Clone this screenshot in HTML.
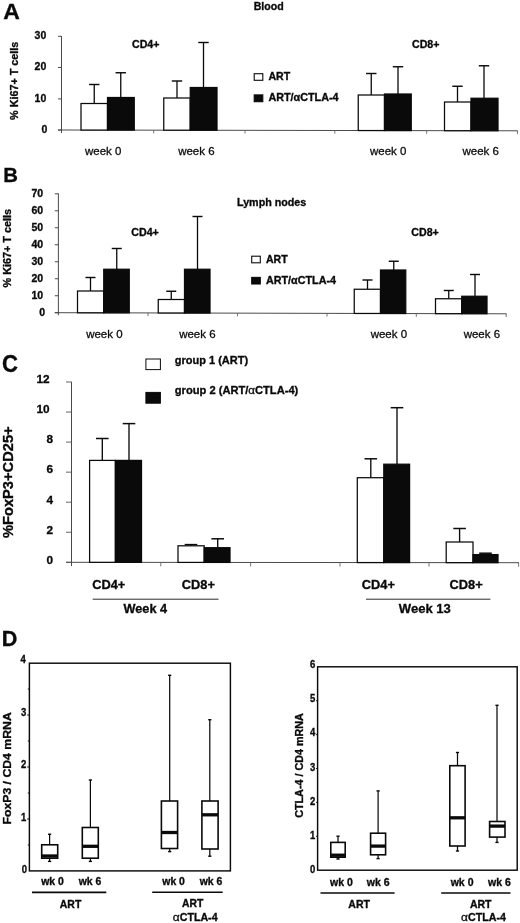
<!DOCTYPE html>
<html><head><meta charset="utf-8"><title>Figure</title>
<style>
html,body{margin:0;padding:0;background:#fff;}
body{width:520px;height:923px;overflow:hidden;}
svg{display:block;font-family:"Liberation Sans",sans-serif;filter:blur(0.35px);}
</style></head><body>
<svg width="520" height="923" viewBox="0 0 520 923">
<rect x="0" y="0" width="520" height="923" fill="#ffffff"/>
<text x="3.2" y="19.4" font-size="21.5" font-weight="bold" textLength="16.6" lengthAdjust="spacingAndGlyphs" fill="#0a0a0a" stroke="#0a0a0a" stroke-width="0.32">A</text>
<text x="253.7" y="10" font-size="10.2" font-weight="bold" textLength="30" lengthAdjust="spacingAndGlyphs" fill="#0a0a0a" stroke="#0a0a0a" stroke-width="0.32">Blood</text>
<line x1="61.5" y1="36" x2="61.5" y2="133.0" stroke="#4a4a4a" stroke-width="1"/>
<line x1="58" y1="129.99" x2="517.8" y2="130.8" stroke="#4a4a4a" stroke-width="1"/>
<line x1="58" y1="36.3" x2="61.5" y2="36.3" stroke="#4a4a4a" stroke-width="1"/>
<text x="46.3" y="39.2" font-size="10.5" font-weight="bold" text-anchor="end" fill="#0a0a0a" stroke="#0a0a0a" stroke-width="0.32">30</text>
<line x1="58" y1="67.5" x2="61.5" y2="67.5" stroke="#4a4a4a" stroke-width="1"/>
<text x="46.3" y="70.4" font-size="10.5" font-weight="bold" text-anchor="end" fill="#0a0a0a" stroke="#0a0a0a" stroke-width="0.32">20</text>
<line x1="58" y1="98.9" x2="61.5" y2="98.9" stroke="#4a4a4a" stroke-width="1"/>
<text x="46.3" y="101.8" font-size="10.5" font-weight="bold" text-anchor="end" fill="#0a0a0a" stroke="#0a0a0a" stroke-width="0.32">10</text>
<line x1="58" y1="130.0" x2="61.5" y2="130.0" stroke="#4a4a4a" stroke-width="1"/>
<text x="47.4" y="132.9" font-size="10.5" font-weight="bold" text-anchor="end" fill="#0a0a0a" stroke="#0a0a0a" stroke-width="0.32">0</text>
<line x1="153.7" y1="130.16" x2="153.7" y2="133.36" stroke="#666" stroke-width="0.9"/>
<line x1="245" y1="130.32" x2="245" y2="133.52" stroke="#666" stroke-width="0.9"/>
<line x1="334.8" y1="130.48" x2="334.8" y2="133.68" stroke="#666" stroke-width="0.9"/>
<line x1="426.7" y1="130.64" x2="426.7" y2="133.84" stroke="#666" stroke-width="0.9"/>
<line x1="517.5" y1="130.8" x2="517.5" y2="134.0" stroke="#666" stroke-width="0.9"/>
<text x="18" y="80.8" font-size="10.6" font-weight="bold" text-anchor="middle" textLength="78.3" lengthAdjust="spacingAndGlyphs" transform="rotate(-90 18 80.8)" fill="#0a0a0a" stroke="#0a0a0a" stroke-width="0.32">% Ki67+ T cells</text>
<line x1="94.25" y1="84.5" x2="94.25" y2="103.5" stroke="#0a0a0a" stroke-width="1.3"/>
<line x1="89.05" y1="84.5" x2="99.45" y2="84.5" stroke="#0a0a0a" stroke-width="1.43"/>
<rect x="81" y="103.5" width="26.5" height="26.56" fill="#fff" stroke="#0a0a0a" stroke-width="1.25"/>
<line x1="120.75" y1="72.75" x2="120.75" y2="97.5" stroke="#0a0a0a" stroke-width="1.3"/>
<line x1="115.55" y1="72.75" x2="125.95" y2="72.75" stroke="#0a0a0a" stroke-width="1.43"/>
<rect x="107.5" y="97.5" width="26.75" height="32.6" fill="#0a0a0a" stroke="#0a0a0a" stroke-width="1.25"/>
<line x1="177" y1="81" x2="177" y2="98" stroke="#0a0a0a" stroke-width="1.3"/>
<line x1="171.8" y1="81" x2="182.2" y2="81" stroke="#0a0a0a" stroke-width="1.43"/>
<rect x="163.75" y="98" width="26.5" height="32.2" fill="#fff" stroke="#0a0a0a" stroke-width="1.25"/>
<line x1="203.5" y1="42.5" x2="203.5" y2="87.5" stroke="#0a0a0a" stroke-width="1.3"/>
<line x1="198.3" y1="42.5" x2="208.7" y2="42.5" stroke="#0a0a0a" stroke-width="1.43"/>
<rect x="190.25" y="87.5" width="26.75" height="42.75" fill="#0a0a0a" stroke="#0a0a0a" stroke-width="1.25"/>
<line x1="371.25" y1="73.5" x2="371.25" y2="95" stroke="#0a0a0a" stroke-width="1.3"/>
<line x1="366.05" y1="73.5" x2="376.45" y2="73.5" stroke="#0a0a0a" stroke-width="1.43"/>
<rect x="358.25" y="95" width="26.25" height="35.54" fill="#fff" stroke="#0a0a0a" stroke-width="1.25"/>
<line x1="398" y1="66.75" x2="398" y2="94" stroke="#0a0a0a" stroke-width="1.3"/>
<line x1="392.8" y1="66.75" x2="403.2" y2="66.75" stroke="#0a0a0a" stroke-width="1.43"/>
<rect x="384.5" y="94" width="26.75" height="36.59" fill="#0a0a0a" stroke="#0a0a0a" stroke-width="1.25"/>
<line x1="457.5" y1="86.25" x2="457.5" y2="102" stroke="#0a0a0a" stroke-width="1.3"/>
<line x1="452.3" y1="86.25" x2="462.7" y2="86.25" stroke="#0a0a0a" stroke-width="1.43"/>
<rect x="444.5" y="102" width="26.5" height="28.7" fill="#fff" stroke="#0a0a0a" stroke-width="1.25"/>
<line x1="484" y1="65.75" x2="484" y2="98.25" stroke="#0a0a0a" stroke-width="1.3"/>
<line x1="478.8" y1="65.75" x2="489.2" y2="65.75" stroke="#0a0a0a" stroke-width="1.43"/>
<rect x="471" y="98.25" width="27" height="32.49" fill="#0a0a0a" stroke="#0a0a0a" stroke-width="1.25"/>
<text x="132" y="47.5" font-size="10.2" font-weight="bold" textLength="27.5" lengthAdjust="spacingAndGlyphs" fill="#0a0a0a" stroke="#0a0a0a" stroke-width="0.32">CD4+</text>
<text x="412" y="47.9" font-size="10.2" font-weight="bold" textLength="27.5" lengthAdjust="spacingAndGlyphs" fill="#0a0a0a" stroke="#0a0a0a" stroke-width="0.32">CD8+</text>
<rect x="254.2" y="73.7" width="8.6" height="6.6" fill="#fff" stroke="#0a0a0a" stroke-width="1.1"/>
<text x="268.4" y="79.5" font-size="10" font-weight="bold" textLength="21.7" lengthAdjust="spacingAndGlyphs" fill="#0a0a0a" stroke="#0a0a0a" stroke-width="0.32">ART</text>
<rect x="254.2" y="94.9" width="8.6" height="6.8" fill="#0a0a0a" stroke="#0a0a0a" stroke-width="1.1"/>
<text x="268.5" y="101.2" font-size="10" font-weight="bold" textLength="70" lengthAdjust="spacingAndGlyphs" fill="#0a0a0a" stroke="#0a0a0a" stroke-width="0.32">ART/αCTLA-4</text>
<text x="85" y="155.2" font-size="11.4" textLength="36.4" lengthAdjust="spacingAndGlyphs" fill="#0a0a0a" stroke="#0a0a0a" stroke-width="0.28">week 0</text>
<text x="178.2" y="155.2" font-size="11.4" textLength="36.4" lengthAdjust="spacingAndGlyphs" fill="#0a0a0a" stroke="#0a0a0a" stroke-width="0.28">week 6</text>
<text x="370" y="155.2" font-size="11.4" textLength="36.4" lengthAdjust="spacingAndGlyphs" fill="#0a0a0a" stroke="#0a0a0a" stroke-width="0.28">week 0</text>
<text x="462.5" y="155.2" font-size="11.4" textLength="36.4" lengthAdjust="spacingAndGlyphs" fill="#0a0a0a" stroke="#0a0a0a" stroke-width="0.28">week 6</text>
<text x="3.3" y="182" font-size="21" font-weight="bold" textLength="14.7" lengthAdjust="spacingAndGlyphs" fill="#0a0a0a" stroke="#0a0a0a" stroke-width="0.32">B</text>
<text x="237" y="206.3" font-size="10.2" font-weight="bold" textLength="69.3" lengthAdjust="spacingAndGlyphs" fill="#0a0a0a" stroke="#0a0a0a" stroke-width="0.32">Lymph nodes</text>
<line x1="58.4" y1="193.5" x2="58.4" y2="315.2" stroke="#4a4a4a" stroke-width="1"/>
<line x1="54.8" y1="312.69" x2="506.5" y2="313.8" stroke="#4a4a4a" stroke-width="1"/>
<line x1="54.8" y1="193.8" x2="58.4" y2="193.8" stroke="#4a4a4a" stroke-width="1"/>
<text x="43.2" y="196.8" font-size="10.5" font-weight="bold" text-anchor="end" fill="#0a0a0a" stroke="#0a0a0a" stroke-width="0.32">70</text>
<line x1="54.8" y1="210.79" x2="58.4" y2="210.79" stroke="#4a4a4a" stroke-width="1"/>
<text x="43.2" y="213.79" font-size="10.5" font-weight="bold" text-anchor="end" fill="#0a0a0a" stroke="#0a0a0a" stroke-width="0.32">60</text>
<line x1="54.8" y1="227.78" x2="58.4" y2="227.78" stroke="#4a4a4a" stroke-width="1"/>
<text x="43.2" y="230.78" font-size="10.5" font-weight="bold" text-anchor="end" fill="#0a0a0a" stroke="#0a0a0a" stroke-width="0.32">50</text>
<line x1="54.8" y1="244.77" x2="58.4" y2="244.77" stroke="#4a4a4a" stroke-width="1"/>
<text x="43.2" y="247.77" font-size="10.5" font-weight="bold" text-anchor="end" fill="#0a0a0a" stroke="#0a0a0a" stroke-width="0.32">40</text>
<line x1="54.8" y1="261.76" x2="58.4" y2="261.76" stroke="#4a4a4a" stroke-width="1"/>
<text x="43.2" y="264.76" font-size="10.5" font-weight="bold" text-anchor="end" fill="#0a0a0a" stroke="#0a0a0a" stroke-width="0.32">30</text>
<line x1="54.8" y1="278.75" x2="58.4" y2="278.75" stroke="#4a4a4a" stroke-width="1"/>
<text x="43.2" y="281.75" font-size="10.5" font-weight="bold" text-anchor="end" fill="#0a0a0a" stroke="#0a0a0a" stroke-width="0.32">20</text>
<line x1="54.8" y1="295.74" x2="58.4" y2="295.74" stroke="#4a4a4a" stroke-width="1"/>
<text x="43.2" y="298.74" font-size="10.5" font-weight="bold" text-anchor="end" fill="#0a0a0a" stroke="#0a0a0a" stroke-width="0.32">10</text>
<line x1="54.8" y1="312.73" x2="58.4" y2="312.73" stroke="#4a4a4a" stroke-width="1"/>
<text x="45.0" y="315.73" font-size="10.5" font-weight="bold" text-anchor="end" fill="#0a0a0a" stroke="#0a0a0a" stroke-width="0.32">0</text>
<line x1="148" y1="312.92" x2="148" y2="316.12" stroke="#666" stroke-width="0.9"/>
<line x1="237.5" y1="313.14" x2="237.5" y2="316.34" stroke="#666" stroke-width="0.9"/>
<line x1="327" y1="313.36" x2="327" y2="316.56" stroke="#666" stroke-width="0.9"/>
<line x1="416.3" y1="313.58" x2="416.3" y2="316.78" stroke="#666" stroke-width="0.9"/>
<line x1="506.2" y1="313.8" x2="506.2" y2="317" stroke="#666" stroke-width="0.9"/>
<text x="10.6" y="248.2" font-size="10.6" font-weight="bold" text-anchor="middle" textLength="78.5" lengthAdjust="spacingAndGlyphs" transform="rotate(-90 10.6 248.2)" fill="#0a0a0a" stroke="#0a0a0a" stroke-width="0.32">% Ki67+ T cells</text>
<line x1="90.5" y1="277.5" x2="90.5" y2="291" stroke="#0a0a0a" stroke-width="1.3"/>
<line x1="85.5" y1="277.5" x2="95.5" y2="277.5" stroke="#0a0a0a" stroke-width="1.43"/>
<rect x="77.5" y="291" width="26.25" height="21.78" fill="#fff" stroke="#0a0a0a" stroke-width="1.25"/>
<line x1="116.75" y1="248.5" x2="116.75" y2="269.25" stroke="#0a0a0a" stroke-width="1.3"/>
<line x1="111.75" y1="248.5" x2="121.75" y2="248.5" stroke="#0a0a0a" stroke-width="1.43"/>
<rect x="103.75" y="269.25" width="25.5" height="43.59" fill="#0a0a0a" stroke="#0a0a0a" stroke-width="1.25"/>
<line x1="171.25" y1="291.25" x2="171.25" y2="299.5" stroke="#0a0a0a" stroke-width="1.3"/>
<line x1="166.25" y1="291.25" x2="176.25" y2="291.25" stroke="#0a0a0a" stroke-width="1.43"/>
<rect x="158.25" y="299.5" width="26.25" height="13.48" fill="#fff" stroke="#0a0a0a" stroke-width="1.25"/>
<line x1="197.5" y1="216.5" x2="197.5" y2="269.25" stroke="#0a0a0a" stroke-width="1.3"/>
<line x1="192.5" y1="216.5" x2="202.5" y2="216.5" stroke="#0a0a0a" stroke-width="1.43"/>
<rect x="184.5" y="269.25" width="25.5" height="43.79" fill="#0a0a0a" stroke="#0a0a0a" stroke-width="1.25"/>
<line x1="367.5" y1="280" x2="367.5" y2="289.25" stroke="#0a0a0a" stroke-width="1.3"/>
<line x1="362.5" y1="280" x2="372.5" y2="280" stroke="#0a0a0a" stroke-width="1.43"/>
<rect x="354.25" y="289.25" width="26.25" height="24.21" fill="#fff" stroke="#0a0a0a" stroke-width="1.25"/>
<line x1="393.75" y1="261.25" x2="393.75" y2="270" stroke="#0a0a0a" stroke-width="1.3"/>
<line x1="388.75" y1="261.25" x2="398.75" y2="261.25" stroke="#0a0a0a" stroke-width="1.43"/>
<rect x="380.5" y="270" width="25.25" height="43.52" fill="#0a0a0a" stroke="#0a0a0a" stroke-width="1.25"/>
<line x1="448.75" y1="290.5" x2="448.75" y2="298.75" stroke="#0a0a0a" stroke-width="1.3"/>
<line x1="443.75" y1="290.5" x2="453.75" y2="290.5" stroke="#0a0a0a" stroke-width="1.43"/>
<rect x="435.5" y="298.75" width="26.25" height="14.91" fill="#fff" stroke="#0a0a0a" stroke-width="1.25"/>
<line x1="475" y1="274.5" x2="475" y2="296.25" stroke="#0a0a0a" stroke-width="1.3"/>
<line x1="470" y1="274.5" x2="480" y2="274.5" stroke="#0a0a0a" stroke-width="1.43"/>
<rect x="461.75" y="296.25" width="25.25" height="17.47" fill="#0a0a0a" stroke="#0a0a0a" stroke-width="1.25"/>
<text x="131.3" y="235.7" font-size="10.2" font-weight="bold" textLength="27.5" lengthAdjust="spacingAndGlyphs" fill="#0a0a0a" stroke="#0a0a0a" stroke-width="0.32">CD4+</text>
<text x="411.3" y="236.2" font-size="10.2" font-weight="bold" textLength="27.5" lengthAdjust="spacingAndGlyphs" fill="#0a0a0a" stroke="#0a0a0a" stroke-width="0.32">CD8+</text>
<rect x="251.7" y="256.2" width="8.6" height="6.6" fill="#fff" stroke="#0a0a0a" stroke-width="1.1"/>
<text x="266" y="262.5" font-size="10" font-weight="bold" textLength="21.7" lengthAdjust="spacingAndGlyphs" fill="#0a0a0a" stroke="#0a0a0a" stroke-width="0.32">ART</text>
<rect x="251.7" y="277.4" width="8.6" height="6.6" fill="#0a0a0a" stroke="#0a0a0a" stroke-width="1.1"/>
<text x="266" y="284.2" font-size="10" font-weight="bold" textLength="70" lengthAdjust="spacingAndGlyphs" fill="#0a0a0a" stroke="#0a0a0a" stroke-width="0.32">ART/αCTLA-4</text>
<text x="86.2" y="337.8" font-size="11.4" textLength="36.4" lengthAdjust="spacingAndGlyphs" fill="#0a0a0a" stroke="#0a0a0a" stroke-width="0.28">week 0</text>
<text x="179.2" y="337.8" font-size="11.4" textLength="36.4" lengthAdjust="spacingAndGlyphs" fill="#0a0a0a" stroke="#0a0a0a" stroke-width="0.28">week 6</text>
<text x="370.7" y="338.2" font-size="11.4" textLength="36.4" lengthAdjust="spacingAndGlyphs" fill="#0a0a0a" stroke="#0a0a0a" stroke-width="0.28">week 0</text>
<text x="463.7" y="338.2" font-size="11.4" textLength="36.4" lengthAdjust="spacingAndGlyphs" fill="#0a0a0a" stroke="#0a0a0a" stroke-width="0.28">week 6</text>
<text x="1.9" y="372.2" font-size="24" font-weight="bold" textLength="16" lengthAdjust="spacingAndGlyphs" fill="#0a0a0a" stroke="#0a0a0a" stroke-width="0.32">C</text>
<line x1="71.5" y1="381.8" x2="71.5" y2="566.1" stroke="#4a4a4a" stroke-width="1"/>
<line x1="66" y1="562.3" x2="519" y2="562.7" stroke="#4a4a4a" stroke-width="1"/>
<line x1="66" y1="382.0" x2="71.5" y2="382.0" stroke="#555" stroke-width="0.9"/>
<text x="49.6" y="383.3" font-size="11.8" font-weight="bold" text-anchor="end" fill="#0a0a0a" stroke="#0a0a0a" stroke-width="0.32">12</text>
<line x1="66" y1="412.05" x2="71.5" y2="412.05" stroke="#555" stroke-width="0.9"/>
<text x="49.6" y="413.35" font-size="11.8" font-weight="bold" text-anchor="end" fill="#0a0a0a" stroke="#0a0a0a" stroke-width="0.32">10</text>
<line x1="66" y1="442.1" x2="71.5" y2="442.1" stroke="#555" stroke-width="0.9"/>
<text x="53.0" y="443.4" font-size="11.8" font-weight="bold" text-anchor="end" fill="#0a0a0a" stroke="#0a0a0a" stroke-width="0.32">8</text>
<line x1="66" y1="472.15" x2="71.5" y2="472.15" stroke="#555" stroke-width="0.9"/>
<text x="53.0" y="473.45" font-size="11.8" font-weight="bold" text-anchor="end" fill="#0a0a0a" stroke="#0a0a0a" stroke-width="0.32">6</text>
<line x1="66" y1="502.2" x2="71.5" y2="502.2" stroke="#555" stroke-width="0.9"/>
<text x="53.0" y="503.5" font-size="11.8" font-weight="bold" text-anchor="end" fill="#0a0a0a" stroke="#0a0a0a" stroke-width="0.32">4</text>
<line x1="66" y1="532.25" x2="71.5" y2="532.25" stroke="#555" stroke-width="0.9"/>
<text x="53.0" y="533.55" font-size="11.8" font-weight="bold" text-anchor="end" fill="#0a0a0a" stroke="#0a0a0a" stroke-width="0.32">2</text>
<line x1="66" y1="562.3" x2="71.5" y2="562.3" stroke="#555" stroke-width="0.9"/>
<text x="53.0" y="563.6" font-size="11.8" font-weight="bold" text-anchor="end" fill="#0a0a0a" stroke="#0a0a0a" stroke-width="0.32">0</text>
<line x1="160.8" y1="562.38" x2="160.8" y2="566.38" stroke="#666" stroke-width="0.9"/>
<line x1="250.6" y1="562.46" x2="250.6" y2="566.46" stroke="#666" stroke-width="0.9"/>
<line x1="340" y1="562.54" x2="340" y2="566.54" stroke="#666" stroke-width="0.9"/>
<line x1="429" y1="562.62" x2="429" y2="566.62" stroke="#666" stroke-width="0.9"/>
<line x1="518.6" y1="562.7" x2="518.6" y2="566.7" stroke="#666" stroke-width="0.9"/>
<text x="13.3" y="482.2" font-size="14.6" font-weight="bold" text-anchor="middle" textLength="111.6" lengthAdjust="spacingAndGlyphs" transform="rotate(-90 13.3 482.2)" fill="#0a0a0a" stroke="#0a0a0a" stroke-width="0.32">%FoxP3+CD25+</text>
<line x1="102.3" y1="438.5" x2="102.3" y2="460.4" stroke="#0a0a0a" stroke-width="1.35"/>
<line x1="96.0" y1="438.5" x2="108.6" y2="438.5" stroke="#0a0a0a" stroke-width="1.49"/>
<rect x="89.6" y="460.4" width="25.8" height="101.93" fill="#fff" stroke="#0a0a0a" stroke-width="1.25"/>
<line x1="129" y1="423.6" x2="129" y2="460.4" stroke="#0a0a0a" stroke-width="1.35"/>
<line x1="122.7" y1="423.6" x2="135.3" y2="423.6" stroke="#0a0a0a" stroke-width="1.49"/>
<rect x="115.4" y="460.4" width="26.1" height="101.95" fill="#0a0a0a" stroke="#0a0a0a" stroke-width="1.25"/>
<line x1="191" y1="544.6" x2="191" y2="545.8" stroke="#0a0a0a" stroke-width="1.35"/>
<line x1="184.7" y1="544.6" x2="197.3" y2="544.6" stroke="#0a0a0a" stroke-width="1.49"/>
<rect x="178" y="545.8" width="26.2" height="16.61" fill="#fff" stroke="#0a0a0a" stroke-width="1.25"/>
<line x1="217.7" y1="538.8" x2="217.7" y2="547.7" stroke="#0a0a0a" stroke-width="1.35"/>
<line x1="211.4" y1="538.8" x2="224.0" y2="538.8" stroke="#0a0a0a" stroke-width="1.49"/>
<rect x="204.2" y="547.7" width="25.8" height="14.73" fill="#0a0a0a" stroke="#0a0a0a" stroke-width="1.25"/>
<line x1="370.8" y1="458.8" x2="370.8" y2="477.7" stroke="#0a0a0a" stroke-width="1.35"/>
<line x1="364.5" y1="458.8" x2="377.1" y2="458.8" stroke="#0a0a0a" stroke-width="1.49"/>
<rect x="357.3" y="477.7" width="26.5" height="84.87" fill="#fff" stroke="#0a0a0a" stroke-width="1.25"/>
<line x1="397" y1="407.7" x2="397" y2="464.2" stroke="#0a0a0a" stroke-width="1.35"/>
<line x1="390.7" y1="407.7" x2="403.3" y2="407.7" stroke="#0a0a0a" stroke-width="1.49"/>
<rect x="383.8" y="464.2" width="25.8" height="98.39" fill="#0a0a0a" stroke="#0a0a0a" stroke-width="1.25"/>
<line x1="459.6" y1="528.5" x2="459.6" y2="542" stroke="#0a0a0a" stroke-width="1.35"/>
<line x1="453.3" y1="528.5" x2="465.9" y2="528.5" stroke="#0a0a0a" stroke-width="1.49"/>
<rect x="446.2" y="542" width="26.8" height="20.65" fill="#fff" stroke="#0a0a0a" stroke-width="1.25"/>
<line x1="485.5" y1="553.2" x2="485.5" y2="554.6" stroke="#0a0a0a" stroke-width="1.35"/>
<line x1="479.2" y1="553.2" x2="491.8" y2="553.2" stroke="#0a0a0a" stroke-width="1.49"/>
<rect x="473" y="554.6" width="25" height="8.07" fill="#0a0a0a" stroke="#0a0a0a" stroke-width="1.25"/>
<rect x="145.9" y="359" width="14.5" height="10.6" fill="#fff" stroke="#0a0a0a" stroke-width="1"/>
<rect x="145.9" y="392.4" width="14.5" height="10.8" fill="#0a0a0a" stroke="#0a0a0a" stroke-width="1"/>
<text x="174.8" y="363.6" font-size="11" font-weight="bold" textLength="73.3" lengthAdjust="spacingAndGlyphs" fill="#0a0a0a" stroke="#0a0a0a" stroke-width="0.32">group 1 (ART)</text>
<text x="174.8" y="393.6" font-size="11" font-weight="bold" textLength="123.5" lengthAdjust="spacingAndGlyphs" fill="#0a0a0a" stroke="#0a0a0a" stroke-width="0.32">group 2 (ART/<tspan font-weight="normal" font-size="11.4" stroke-width="0.3">α</tspan>CTLA-4)</text>
<text x="92.2" y="588.8" font-size="12.6" font-weight="bold" textLength="33.2" lengthAdjust="spacingAndGlyphs" fill="#0a0a0a" stroke="#0a0a0a" stroke-width="0.32">CD4+</text>
<text x="181.8" y="588.8" font-size="12.6" font-weight="bold" textLength="33.2" lengthAdjust="spacingAndGlyphs" fill="#0a0a0a" stroke="#0a0a0a" stroke-width="0.32">CD8+</text>
<text x="361.8" y="588.8" font-size="12.6" font-weight="bold" textLength="33.2" lengthAdjust="spacingAndGlyphs" fill="#0a0a0a" stroke="#0a0a0a" stroke-width="0.32">CD4+</text>
<text x="449.5" y="588.8" font-size="12.6" font-weight="bold" textLength="33.2" lengthAdjust="spacingAndGlyphs" fill="#0a0a0a" stroke="#0a0a0a" stroke-width="0.32">CD8+</text>
<line x1="92.7" y1="599.2" x2="218.5" y2="599.2" stroke="#2a2a2a" stroke-width="1"/>
<line x1="366" y1="599.2" x2="490.4" y2="599.2" stroke="#2a2a2a" stroke-width="1"/>
<text x="123.5" y="613" font-size="12.8" font-weight="bold" textLength="43.6" lengthAdjust="spacingAndGlyphs" fill="#0a0a0a" stroke="#0a0a0a" stroke-width="0.32">Week 4</text>
<text x="398.8" y="612.6" font-size="12.8" font-weight="bold" textLength="52" lengthAdjust="spacingAndGlyphs" fill="#0a0a0a" stroke="#0a0a0a" stroke-width="0.32">Week 13</text>
<text x="1.8" y="646.4" font-size="22.3" font-weight="bold" textLength="15.6" lengthAdjust="spacingAndGlyphs" fill="#0a0a0a" stroke="#0a0a0a" stroke-width="0.32">D</text>
<rect x="29.4" y="663.2" width="201.0" height="207.7" fill="none" stroke="#0a0a0a" stroke-width="1.45"/>
<text x="25.9" y="662.9" font-size="10.6" font-weight="bold" text-anchor="end" textLength="5.3" lengthAdjust="spacingAndGlyphs" fill="#0a0a0a" stroke="#0a0a0a" stroke-width="0.32">4</text>
<text x="26.4" y="715.8" font-size="10.6" font-weight="bold" text-anchor="end" textLength="5.3" lengthAdjust="spacingAndGlyphs" fill="#0a0a0a" stroke="#0a0a0a" stroke-width="0.32">3</text>
<text x="26.4" y="768.1" font-size="10.6" font-weight="bold" text-anchor="end" textLength="5.3" lengthAdjust="spacingAndGlyphs" fill="#0a0a0a" stroke="#0a0a0a" stroke-width="0.32">2</text>
<text x="26.4" y="820.5" font-size="10.6" font-weight="bold" text-anchor="end" textLength="5.3" lengthAdjust="spacingAndGlyphs" fill="#0a0a0a" stroke="#0a0a0a" stroke-width="0.32">1</text>
<text x="27" y="872.5" font-size="10.6" font-weight="bold" text-anchor="end" textLength="5.3" lengthAdjust="spacingAndGlyphs" fill="#0a0a0a" stroke="#0a0a0a" stroke-width="0.32">0</text>
<line x1="27.2" y1="715" x2="29" y2="715" stroke="#0a0a0a" stroke-width="1"/>
<line x1="27.2" y1="767" x2="29" y2="767" stroke="#0a0a0a" stroke-width="1"/>
<line x1="27.2" y1="819" x2="29" y2="819" stroke="#0a0a0a" stroke-width="1"/>
<line x1="27.8" y1="689" x2="29" y2="689" stroke="#0a0a0a" stroke-width="0.9"/>
<line x1="27.8" y1="741" x2="29" y2="741" stroke="#0a0a0a" stroke-width="0.9"/>
<line x1="27.8" y1="793" x2="29" y2="793" stroke="#0a0a0a" stroke-width="0.9"/>
<line x1="27.8" y1="845" x2="29" y2="845" stroke="#0a0a0a" stroke-width="0.9"/>
<text x="10.8" y="768.4" font-size="11.1" font-weight="bold" text-anchor="middle" textLength="112.4" lengthAdjust="spacingAndGlyphs" transform="rotate(-90 10.8 768.4)" fill="#0a0a0a" stroke="#0a0a0a" stroke-width="0.32">FoxP3 / CD4 mRNA</text>
<line x1="49.6" y1="834.25" x2="49.6" y2="861.4" stroke="#0a0a0a" stroke-width="1.25"/>
<line x1="48.0" y1="834.25" x2="51.2" y2="834.25" stroke="#0a0a0a" stroke-width="1.4"/>
<line x1="48.0" y1="861.4" x2="51.2" y2="861.4" stroke="#0a0a0a" stroke-width="1.4"/>
<rect x="41.7" y="844.8" width="16.0" height="13.4" fill="#fff" stroke="#0a0a0a" stroke-width="1.6"/>
<line x1="41.7" y1="856" x2="57.7" y2="856" stroke="#0a0a0a" stroke-width="3.3"/>
<line x1="90.4" y1="780" x2="90.4" y2="861.4" stroke="#0a0a0a" stroke-width="1.25"/>
<line x1="88.8" y1="780" x2="92.0" y2="780" stroke="#0a0a0a" stroke-width="1.4"/>
<line x1="88.8" y1="861.4" x2="92.0" y2="861.4" stroke="#0a0a0a" stroke-width="1.4"/>
<rect x="82.3" y="827.5" width="16.0" height="30.7" fill="#fff" stroke="#0a0a0a" stroke-width="1.6"/>
<line x1="82.3" y1="846.3" x2="98.3" y2="846.3" stroke="#0a0a0a" stroke-width="3.3"/>
<line x1="169.7" y1="675.3" x2="169.7" y2="851.6" stroke="#0a0a0a" stroke-width="1.25"/>
<line x1="168.1" y1="675.3" x2="171.3" y2="675.3" stroke="#0a0a0a" stroke-width="1.4"/>
<line x1="168.1" y1="851.6" x2="171.3" y2="851.6" stroke="#0a0a0a" stroke-width="1.4"/>
<rect x="161.4" y="801" width="16.2" height="47.5" fill="#fff" stroke="#0a0a0a" stroke-width="1.6"/>
<line x1="161.4" y1="832.5" x2="177.6" y2="832.5" stroke="#0a0a0a" stroke-width="3.3"/>
<line x1="209.8" y1="719.7" x2="209.8" y2="856.2" stroke="#0a0a0a" stroke-width="1.25"/>
<line x1="208.2" y1="719.7" x2="211.4" y2="719.7" stroke="#0a0a0a" stroke-width="1.4"/>
<line x1="208.2" y1="856.2" x2="211.4" y2="856.2" stroke="#0a0a0a" stroke-width="1.4"/>
<rect x="201.9" y="801" width="16.2" height="48" fill="#fff" stroke="#0a0a0a" stroke-width="1.6"/>
<line x1="201.9" y1="814.8" x2="218.1" y2="814.8" stroke="#0a0a0a" stroke-width="3.3"/>
<text x="41.2" y="884.8" font-size="10.4" font-weight="bold" textLength="22.6" lengthAdjust="spacingAndGlyphs" fill="#0a0a0a" stroke="#0a0a0a" stroke-width="0.32">wk 0</text>
<text x="78.7" y="884.8" font-size="10.4" font-weight="bold" textLength="22.6" lengthAdjust="spacingAndGlyphs" fill="#0a0a0a" stroke="#0a0a0a" stroke-width="0.32">wk 6</text>
<text x="162.3" y="884.8" font-size="10.4" font-weight="bold" textLength="22.6" lengthAdjust="spacingAndGlyphs" fill="#0a0a0a" stroke="#0a0a0a" stroke-width="0.32">wk 0</text>
<text x="199.7" y="884.8" font-size="10.4" font-weight="bold" textLength="22.6" lengthAdjust="spacingAndGlyphs" fill="#0a0a0a" stroke="#0a0a0a" stroke-width="0.32">wk 6</text>
<line x1="32" y1="892.4" x2="106.3" y2="892.4" stroke="#0a0a0a" stroke-width="1.6"/>
<line x1="152.2" y1="892.2" x2="222.7" y2="892.2" stroke="#0a0a0a" stroke-width="1.6"/>
<text x="59.8" y="908" font-size="10" font-weight="bold" textLength="21.5" lengthAdjust="spacingAndGlyphs" fill="#0a0a0a" stroke="#0a0a0a" stroke-width="0.32">ART</text>
<text x="182" y="907.3" font-size="10" font-weight="bold" textLength="21.3" lengthAdjust="spacingAndGlyphs" fill="#0a0a0a" stroke="#0a0a0a" stroke-width="0.32">ART</text>
<text x="172.8" y="920.5" font-size="10.2" font-weight="bold" textLength="44.8" lengthAdjust="spacingAndGlyphs" fill="#0a0a0a" stroke="#0a0a0a" stroke-width="0.32"><tspan font-weight="normal" font-size="11.4" stroke-width="0.3">α</tspan>CTLA-4</text>
<rect x="317.6" y="666.8" width="199.6" height="203.4" fill="none" stroke="#0a0a0a" stroke-width="1.45"/>
<text x="315.3" y="668.1" font-size="10.6" font-weight="bold" text-anchor="end" textLength="5.3" lengthAdjust="spacingAndGlyphs" fill="#0a0a0a" stroke="#0a0a0a" stroke-width="0.32">6</text>
<text x="315.3" y="702.3" font-size="10.6" font-weight="bold" text-anchor="end" textLength="5.3" lengthAdjust="spacingAndGlyphs" fill="#0a0a0a" stroke="#0a0a0a" stroke-width="0.32">5</text>
<text x="315.3" y="736.2" font-size="10.6" font-weight="bold" text-anchor="end" textLength="5.3" lengthAdjust="spacingAndGlyphs" fill="#0a0a0a" stroke="#0a0a0a" stroke-width="0.32">4</text>
<text x="315.3" y="770.5" font-size="10.6" font-weight="bold" text-anchor="end" textLength="5.3" lengthAdjust="spacingAndGlyphs" fill="#0a0a0a" stroke="#0a0a0a" stroke-width="0.32">3</text>
<text x="315.3" y="804.5" font-size="10.6" font-weight="bold" text-anchor="end" textLength="5.3" lengthAdjust="spacingAndGlyphs" fill="#0a0a0a" stroke="#0a0a0a" stroke-width="0.32">2</text>
<text x="315.3" y="838.6" font-size="10.6" font-weight="bold" text-anchor="end" textLength="5.3" lengthAdjust="spacingAndGlyphs" fill="#0a0a0a" stroke="#0a0a0a" stroke-width="0.32">1</text>
<text x="315.3" y="872.5" font-size="10.6" font-weight="bold" text-anchor="end" textLength="5.3" lengthAdjust="spacingAndGlyphs" fill="#0a0a0a" stroke="#0a0a0a" stroke-width="0.32">0</text>
<line x1="316" y1="700.7" x2="317.6" y2="700.7" stroke="#0a0a0a" stroke-width="0.9"/>
<line x1="316" y1="734.6" x2="317.6" y2="734.6" stroke="#0a0a0a" stroke-width="0.9"/>
<line x1="316" y1="768.5" x2="317.6" y2="768.5" stroke="#0a0a0a" stroke-width="0.9"/>
<line x1="316" y1="802.4" x2="317.6" y2="802.4" stroke="#0a0a0a" stroke-width="0.9"/>
<line x1="316" y1="836.3" x2="317.6" y2="836.3" stroke="#0a0a0a" stroke-width="0.9"/>
<text x="302.6" y="765.5" font-size="10.4" font-weight="bold" text-anchor="middle" textLength="104.6" lengthAdjust="spacingAndGlyphs" transform="rotate(-90 302.6 765.5)" fill="#0a0a0a" stroke="#0a0a0a" stroke-width="0.32">CTLA-4 / CD4 mRNA</text>
<line x1="338" y1="836.2" x2="338" y2="859" stroke="#0a0a0a" stroke-width="1.25"/>
<line x1="336.4" y1="836.2" x2="339.6" y2="836.2" stroke="#0a0a0a" stroke-width="1.4"/>
<line x1="336.4" y1="859" x2="339.6" y2="859" stroke="#0a0a0a" stroke-width="1.4"/>
<rect x="330.8" y="842.4" width="14.4" height="14.8" fill="#fff" stroke="#0a0a0a" stroke-width="1.6"/>
<line x1="330.8" y1="855.2" x2="345.2" y2="855.2" stroke="#0a0a0a" stroke-width="3.3"/>
<line x1="378.1" y1="790.9" x2="378.1" y2="858.6" stroke="#0a0a0a" stroke-width="1.25"/>
<line x1="376.5" y1="790.9" x2="379.7" y2="790.9" stroke="#0a0a0a" stroke-width="1.4"/>
<line x1="376.5" y1="858.6" x2="379.7" y2="858.6" stroke="#0a0a0a" stroke-width="1.4"/>
<rect x="370.6" y="833.2" width="15.0" height="21.6" fill="#fff" stroke="#0a0a0a" stroke-width="1.6"/>
<line x1="370.6" y1="846.1" x2="385.6" y2="846.1" stroke="#0a0a0a" stroke-width="3.3"/>
<line x1="457.5" y1="752.5" x2="457.5" y2="851" stroke="#0a0a0a" stroke-width="1.25"/>
<line x1="455.9" y1="752.5" x2="459.1" y2="752.5" stroke="#0a0a0a" stroke-width="1.4"/>
<line x1="455.9" y1="851" x2="459.1" y2="851" stroke="#0a0a0a" stroke-width="1.4"/>
<rect x="449.8" y="765.7" width="15.3" height="80.3" fill="#fff" stroke="#0a0a0a" stroke-width="1.6"/>
<line x1="449.8" y1="817.8" x2="465.1" y2="817.8" stroke="#0a0a0a" stroke-width="3.3"/>
<line x1="497" y1="705.3" x2="497" y2="842.4" stroke="#0a0a0a" stroke-width="1.25"/>
<line x1="495.4" y1="705.3" x2="498.6" y2="705.3" stroke="#0a0a0a" stroke-width="1.4"/>
<line x1="495.4" y1="842.4" x2="498.6" y2="842.4" stroke="#0a0a0a" stroke-width="1.4"/>
<rect x="489.6" y="821.5" width="15.4" height="15.6" fill="#fff" stroke="#0a0a0a" stroke-width="1.6"/>
<line x1="489.6" y1="826.1" x2="505" y2="826.1" stroke="#0a0a0a" stroke-width="3.3"/>
<text x="330" y="885.5" font-size="10.5" font-weight="bold" textLength="22.8" lengthAdjust="spacingAndGlyphs" fill="#0a0a0a" stroke="#0a0a0a" stroke-width="0.32">wk 0</text>
<text x="366.8" y="885.5" font-size="10.5" font-weight="bold" textLength="22.8" lengthAdjust="spacingAndGlyphs" fill="#0a0a0a" stroke="#0a0a0a" stroke-width="0.32">wk 6</text>
<text x="450.7" y="885.5" font-size="10.5" font-weight="bold" textLength="22.8" lengthAdjust="spacingAndGlyphs" fill="#0a0a0a" stroke="#0a0a0a" stroke-width="0.32">wk 0</text>
<text x="488.1" y="885.5" font-size="10.5" font-weight="bold" textLength="22.8" lengthAdjust="spacingAndGlyphs" fill="#0a0a0a" stroke="#0a0a0a" stroke-width="0.32">wk 6</text>
<line x1="320.5" y1="893" x2="394.6" y2="893" stroke="#0a0a0a" stroke-width="1.6"/>
<line x1="441.2" y1="893" x2="510.5" y2="893" stroke="#0a0a0a" stroke-width="1.6"/>
<text x="348.3" y="907.8" font-size="10" font-weight="bold" textLength="21.6" lengthAdjust="spacingAndGlyphs" fill="#0a0a0a" stroke="#0a0a0a" stroke-width="0.32">ART</text>
<text x="469.9" y="907.8" font-size="10" font-weight="bold" textLength="21.6" lengthAdjust="spacingAndGlyphs" fill="#0a0a0a" stroke="#0a0a0a" stroke-width="0.32">ART</text>
<text x="461.1" y="920.9" font-size="10.2" font-weight="bold" textLength="44.8" lengthAdjust="spacingAndGlyphs" fill="#0a0a0a" stroke="#0a0a0a" stroke-width="0.32"><tspan font-weight="normal" font-size="11.4" stroke-width="0.3">α</tspan>CTLA-4</text>
</svg>
</body></html>
